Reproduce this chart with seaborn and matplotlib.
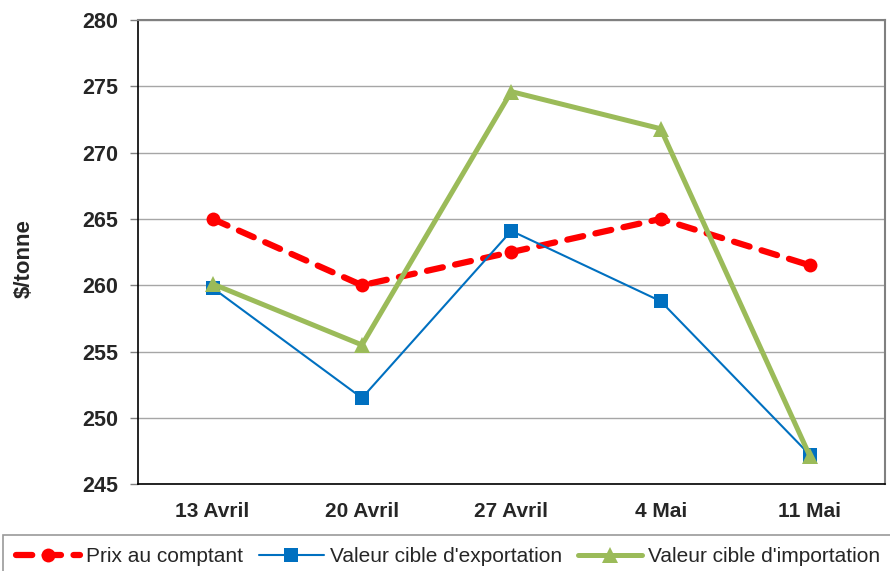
import matplotlib
matplotlib.use('Agg')
import matplotlib.pyplot as plt
import seaborn as sns
import pandas as pd

# données
dates = ['13 Avril', '20 Avril', '27 Avril', '4 Mai', '11 Mai']
prix_comptant = [265.0, 260.0, 262.5, 265.0, 261.5]
cible_export = [259.8, 251.5, 264.1, 258.8, 247.2]
cible_import = [260.1, 255.5, 274.6, 271.8, 247.1]
yticks = [245, 250, 255, 260, 265, 270, 275, 280]

sns.set_style('white')
plt.rcParams['font.family'] = ['Liberation Sans', 'DejaVu Sans']

df = pd.DataFrame({'date': dates, 'pos': range(len(dates)),
                   'prix': prix_comptant, 'export': cible_export, 'import': cible_import})

fig = plt.figure(figsize=(8.9, 5.71), dpi=100)
ax = fig.add_axes([0.155, 0.152, 0.839, 0.813])

for y in yticks:
    ax.axhline(y, color='#a6a6a6', lw=1, zorder=0)

sns.lineplot(data=df, x='pos', y='prix', ax=ax, color='#ff0000', lw=4.5,
             linestyle=(0, (2.6, 2.0)), dash_capstyle='round',
             marker='o', markersize=10, markeredgewidth=0,
             label='Prix au comptant', zorder=3)
sns.lineplot(data=df, x='pos', y='export', ax=ax, color='#0070c0', lw=1.5,
             marker='s', markersize=10, markeredgewidth=0,
             label="Valeur cible d'exportation", zorder=4)
sns.lineplot(data=df, x='pos', y='import', ax=ax, color='#9bbb59', lw=3.6,
             marker='^', markersize=12, markeredgewidth=0,
             label="Valeur cible d'importation", zorder=5)

ax.set_xlim(-0.5, len(dates) - 0.5)
ax.set_ylim(245, 280)
ax.set_yticks(yticks)
ax.set_yticklabels([str(v) for v in yticks], fontsize=15.5, fontweight='bold')
ax.set_xticks(range(len(dates)))
ax.set_xticklabels(dates, fontsize=15, fontweight='bold')
ax.set_xticks([i - 0.5 for i in range(len(dates) + 1)], minor=True)
ax.tick_params(axis='x', which='major', length=0, pad=13)
ax.tick_params(axis='x', which='minor', length=5, width=1, color='#808080', direction='out')
ax.tick_params(axis='y', length=6, width=1, color='#808080', direction='out', pad=8, left=True)
ax.set_xlabel('')
ax.set_ylabel('$/tonne', fontsize=16, fontweight='bold')
ax.yaxis.set_label_coords(-0.138, 0.487)

ax.spines['left'].set_color('black')
ax.spines['bottom'].set_color('black')
ax.spines['left'].set_linewidth(1.2)
ax.spines['bottom'].set_linewidth(1.2)
ax.spines['top'].set_color('#808080')
ax.spines['right'].set_color('#808080')
ax.spines['top'].set_linewidth(1.5)
ax.spines['right'].set_linewidth(1.5)

ax.get_legend().remove()
handles, labels = ax.get_legend_handles_labels()
leg = fig.legend(handles, labels, loc='upper left', bbox_to_anchor=(3 / 890, 1 - 535 / 571),
                 ncol=3, fontsize=15, frameon=True, fancybox=False,
                 edgecolor='#808080', handlelength=3.1, handletextpad=0.3,
                 columnspacing=0.75, borderpad=0.6, borderaxespad=0)
leg.get_frame().set_linewidth(1.2)

fig.savefig('out.png', dpi=100)
